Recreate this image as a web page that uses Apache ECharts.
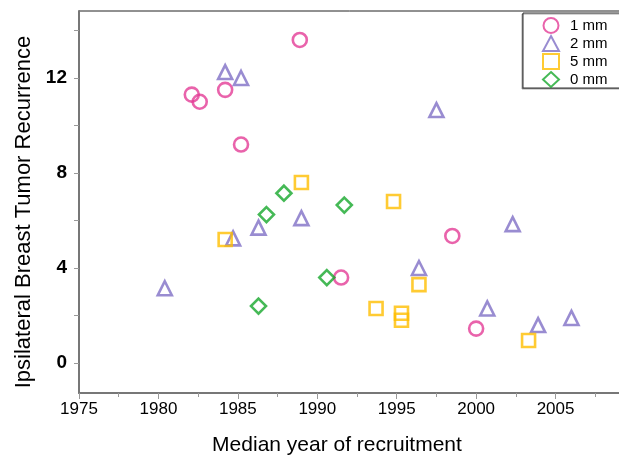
<!DOCTYPE html>
<html>
<head>
<meta charset="utf-8">
<script src="https://cdn.jsdelivr.net/npm/echarts@6/dist/echarts.min.js"></script>
<style>
  html, body { margin: 0; padding: 0; background: #fff; }
  #main { width: 619px; height: 458px; }
</style>
</head>
<body>
<div id="main"></div>
<script>
// recurrence (%) vs median year of recruitment, by margin width
var mm1 = [[1982.1, 11.3], [1982.6, 11.0], [1984.2, 11.5], [1988.9, 13.6], [1985.2, 9.2],
  [1991.5, 3.6], [1998.5, 5.35], [2000.0, 1.45]]
var mm2 = [[1984.2, 12.25], [1985.2, 12.0], [1980.4, 3.15], [1984.7, 5.25], [1986.3, 5.7],
  [1989.0, 6.1], [1997.5, 10.65], [2002.3, 5.85], [1996.4, 4.0], [2000.7, 2.3],
  [2003.9, 1.6], [2006.0, 1.9]]
var mm5 = [[1989.0, 7.6], [1984.2, 5.2], [1993.7, 2.3], [1994.8, 6.8], [1996.4, 3.3],
  [1995.3, 2.1], [1995.3, 1.8], [2003.3, 0.95]]
var mm0 = [[1987.9, 7.15], [1986.8, 6.25], [1991.7, 6.65], [1990.6, 3.6], [1986.3, 2.4]]
var yLabels = [0, 4, 8, 12]
var yTicks = [0, 2, 4, 6, 8, 10, 12, 14]

var chart = echarts.init(document.getElementById('main'))

var mk = function(name, data, symbol, size, color) {
  return {
    name: name,
    type: 'scatter',
    data: data,
    symbol: symbol,
    symbolSize: size,
    itemStyle: { color: 'rgba(255,255,255,0)', borderColor: color, borderWidth: 2.6 }
  }
}

var option = {
  animation: false,
  textStyle: { fontFamily: 'Liberation Sans, Arial, sans-serif' },
  grid: {
    left: 79, top: 11, width: 556, height: 382,
    outerBoundsMode: 'none',
    show: true, borderColor: '#222', borderWidth: 1
  },
  legend: {
    orient: 'vertical',
    left: 523, top: 13,
    padding: [4, 60, 0, 19],
    itemGap: 1,
    itemWidth: 16, itemHeight: 15,
    borderColor: '#333', borderWidth: 1,
    backgroundColor: '#fff',
    shadowColor: 'rgba(0,0,0,0.35)', shadowOffsetX: -1, shadowOffsetY: 1,
    textStyle: { fontSize: 15, lineHeight: 16, color: '#000', padding: [0, 0, 0, 6] },
    data: ['1 mm', '2 mm', '5 mm', '0 mm']
  },
  xAxis: {
    type: 'value',
    min: 1975, max: 2010, interval: 5,
    name: 'Median year of recruitment',
    nameLocation: 'middle',
    nameGap: 42,
    nameTextStyle: { fontSize: 21, color: '#000', padding: [0, 40, 0, 0] },
    axisLine: { onZero: false, lineStyle: { color: '#777', width: 2 } },
    axisTick: { length: 6, lineStyle: { color: '#999' } },
    minorTick: { show: true, splitNumber: 2, length: 4, lineStyle: { color: '#999' } },
    axisLabel: {
      fontSize: 17, color: '#000', margin: 8, showMaxLabel: false,
      formatter: function(v) { return String(v) }
    },
    splitLine: { show: false }
  },
  yAxis: {
    type: 'value',
    min: -1.26, max: 14.82,
    name: 'Ipsilateral Breast Tumor Recurrence',
    nameLocation: 'middle',
    nameGap: 36,
    nameTextStyle: { fontSize: 22, color: '#000', padding: [0, 20, 0, 0] },
    axisLine: { show: true, onZero: false, lineStyle: { color: '#777', width: 2 } },
    axisTick: { show: true, length: 5, customValues: yTicks, lineStyle: { color: '#999' } },
    axisLabel: { fontSize: 19, fontWeight: 'bold', color: '#000', margin: 12, customValues: yLabels },
    splitLine: { show: false }
  },
  series: [
    mk('1 mm', mm1, 'circle', 14, '#E33C96'),
    mk('2 mm', mm2, 'triangle', 14, '#7F6FC6'),
    mk('5 mm', mm5, 'rect', 13, '#FFBE00'),
    mk('0 mm', mm0, 'diamond', 15, '#16A82C')
  ]
}
chart.setOption(option)
</script>
</body>
</html>
